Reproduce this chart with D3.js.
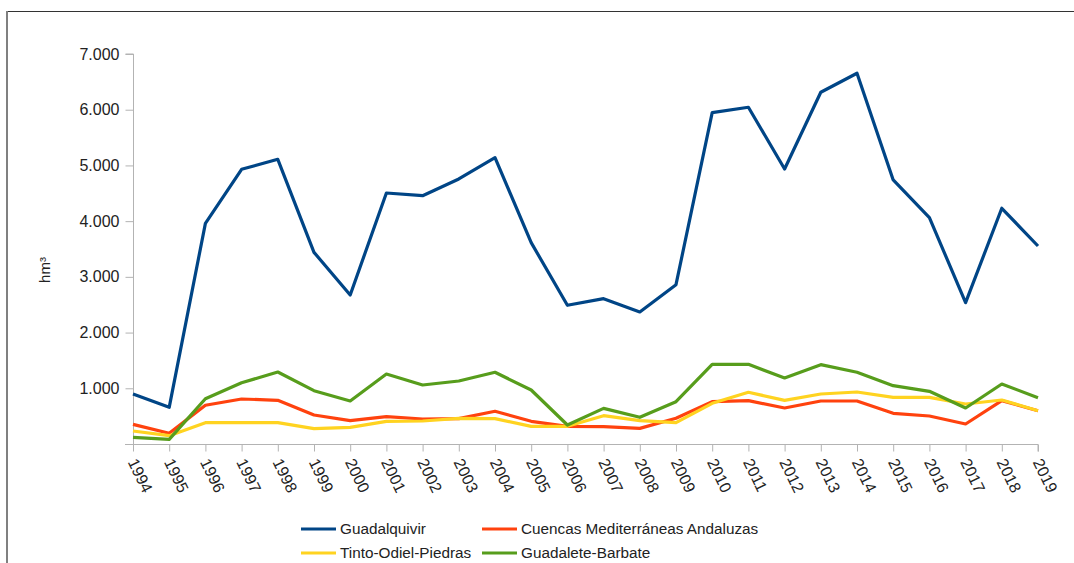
<!DOCTYPE html>
<html>
<head>
<meta charset="utf-8">
<script src="https://cdn.jsdelivr.net/npm/d3@7"></script>
<style>
  body { margin: 0; background: #fff; }
  svg { display: block; font-family: "Liberation Sans", Arial, sans-serif; }
</style>
</head>
<body>
<div id="chart"></div>
<script>
const years = [1994, 1995, 1996, 1997, 1998, 1999, 2000, 2001, 2002, 2003, 2004, 2005, 2006,
  2007, 2008, 2009, 2010, 2011, 2012, 2013, 2014, 2015, 2016, 2017, 2018, 2019];

const guadalquivir = [897, 658, 3960, 4930, 5110, 3440, 2675, 4505, 4457, 4757, 5140, 3614, 2490,
  2609, 2370, 2860, 5947, 6044, 4936, 6313, 6654, 4739, 4063, 2537, 4231, 3554];
const mediterraneas = [353, 192, 695, 808, 784, 520, 419, 490, 449, 455, 587, 407, 317,
  311, 281, 461, 760, 778, 646, 772, 772, 550, 503, 359, 778, 598];
const tintoOdiel = [233, 149, 383, 383, 383, 275, 299, 407, 413, 461, 455, 317, 317,
  508, 419, 383, 730, 928, 784, 897, 933, 838, 838, 718, 790, 598];
const guadalete = [120, 84, 813, 1100, 1292, 957, 772, 1256, 1059, 1131, 1287, 969, 341,
  640, 479, 760, 1430, 1430, 1185, 1424, 1287, 1047, 946, 646, 1077, 831];

const yTicks = [1000, 2000, 3000, 4000, 5000, 6000, 7000];

const series = [
  {name: 'Guadalquivir', values: guadalquivir, color: '#004586'},
  {name: 'Cuencas Mediterráneas Andaluzas', values: mediterraneas, color: '#ff420e'},
  {name: 'Tinto-Odiel-Piedras', values: tintoOdiel, color: '#ffd320'},
  {name: 'Guadalete-Barbate', values: guadalete, color: '#579d1c'}
];

const width = 1074, height = 563;
const svg = d3.select('#chart').append('svg')
  .attr('width', width)
  .attr('height', height);

// frame
svg.append('line').attr('x1', 7).attr('x2', width).attr('y1', 11.5).attr('y2', 11.5)
  .attr('stroke', '#333').attr('stroke-width', 1);
svg.append('line').attr('x1', 7).attr('x2', 7).attr('y1', 11).attr('y2', height)
  .attr('stroke', '#808080').attr('stroke-width', 2);

const x = d3.scaleLinear().domain([1994, 2019]).range([133, 1038]);
const y = d3.scaleLinear().domain([0, 7000]).range([444, 54]);

const fmt = d => d3.format(',')(d).replace(/,/g, '.');

// y axis
const yAxis = svg.append('g').attr('transform', 'translate(133.5,0)')
  .call(d3.axisLeft(y).tickValues(yTicks).tickSize(8).tickPadding(6).tickFormat(fmt));
yAxis.select('.domain').attr('stroke', '#b3b3b3').attr('d', `M-8,${y(7000)}H0V${y(0)}`);
yAxis.selectAll('.tick line').attr('stroke', '#b3b3b3');
yAxis.selectAll('.tick text').attr('fill', '#222').style('font-size', '16px')
  .attr('font-family', '"Liberation Sans", Arial, sans-serif');

// x axis
const xAxis = svg.append('g').attr('transform', 'translate(0,444.5)')
  .call(d3.axisBottom(x).tickValues(years).tickSize(7).tickFormat(d3.format('d')));
xAxis.select('.domain').attr('stroke', '#b3b3b3').attr('d', `M125,0H${x(2019)}V7`);
xAxis.selectAll('.tick line').attr('stroke', '#b3b3b3');
xAxis.selectAll('.tick text')
  .attr('fill', '#222')
  .style('font-size', '16px')
  .attr('font-family', '"Liberation Sans", Arial, sans-serif')
  .attr('text-anchor', 'start')
  .attr('y', 0)
  .attr('dy', '0.35em')
  .attr('transform', 'translate(-1,15) rotate(64)');

// y title
svg.append('text')
  .attr('transform', 'translate(50,270) rotate(-90)')
  .attr('text-anchor', 'middle')
  .attr('fill', '#222')
  .style('font-size', '15px')
  .text('hm³');

const line = d3.line()
  .x((d, i) => x(years[i]))
  .y(d => y(d));

svg.append('g').selectAll('path')
  .data(series)
  .enter().append('path')
  .attr('d', d => line(d.values))
  .attr('fill', 'none')
  .attr('stroke', d => d.color)
  .attr('stroke-width', 3.2)
  .attr('stroke-linejoin', 'round');

// legend
const legendPos = [
  {x: 301, y: 529}, {x: 482, y: 529},
  {x: 301, y: 553}, {x: 482, y: 553}
];
const legend = svg.append('g').selectAll('g')
  .data(series)
  .enter().append('g')
  .attr('transform', (d, i) => `translate(${legendPos[i].x},${legendPos[i].y})`);
legend.append('line')
  .attr('x1', 0).attr('x2', 35).attr('y1', 0).attr('y2', 0)
  .attr('stroke', d => d.color).attr('stroke-width', 3);
legend.append('text')
  .attr('x', 39).attr('y', 0).attr('dy', '0.35em')
  .attr('fill', '#222')
  .style('font-size', '15.3px')
  .text(d => d.name);
</script>
</body>
</html>
